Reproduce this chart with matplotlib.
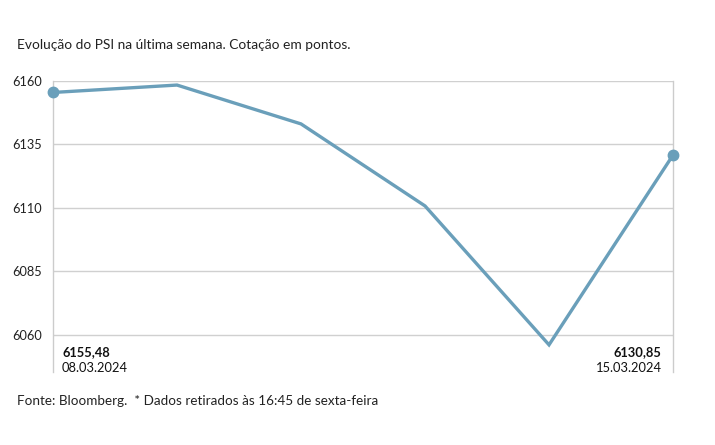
import matplotlib
matplotlib.use("Agg")
import matplotlib.pyplot as plt

dates = ["08.03.2024", "11.03.2024", "12.03.2024", "13.03.2024", "14.03.2024", "15.03.2024"]
values = [6155.48, 6158.4, 6143.1, 6110.8, 6056.1, 6130.85]
yticks = [6060, 6085, 6110, 6135, 6160]
first_label = "6155,48"
last_label = "6130,85"

plt.rcParams['font.family'] = ['Lato', 'DejaVu Sans']

fig = plt.figure(figsize=(7.15, 4.45), dpi=100)
ax = fig.add_axes([0.0741, 0.164, 0.8672, 0.654])

color = "#6a9fba"
x = list(range(len(values)))
ax.plot(x, values, color=color, lw=2.4, solid_joinstyle="miter", zorder=3, clip_on=False)
ax.plot([x[0], x[-1]], [values[0], values[-1]], 'o', color=color, ms=7.5, zorder=4, clip_on=False)

ax.set_xlim(0, len(values) - 1)
ax.set_ylim(6045.4, 6160)
ax.set_yticks(yticks)
ax.set_yticklabels([str(v) for v in yticks], fontsize=9.2, color="#222222")
ax.tick_params(axis='y', length=0, pad=8)
ax.set_xticks([])
for v in yticks:
    ax.axhline(v, color="#d0d0d0", lw=1, zorder=1)
for s in ["top", "bottom"]:
    ax.spines[s].set_visible(False)
for s in ["left", "right"]:
    ax.spines[s].set_color("#cccccc")
    ax.spines[s].set_linewidth(1)

ax.text(0.073, 6053.3, first_label, fontsize=9.3, fontweight="bold", color="#111111", ha="left", va="center")
ax.text(0.073, 6047.0, dates[0], fontsize=9.3, color="#111111", ha="left", va="center")
ax.text(len(values) - 1 - 0.09, 6053.3, last_label, fontsize=9.3, fontweight="bold", color="#111111", ha="right", va="center")
ax.text(len(values) - 1 - 0.09, 6047.0, dates[-1], fontsize=9.3, color="#111111", ha="right", va="center")

fig.text(17 / 715, 1 - 45 / 445, "Evolução do PSI na última semana. Cotação em pontos.", fontsize=9.9, color="#222222", ha="left", va="center")
fig.text(17 / 715, 1 - 401 / 445, "Fonte: Bloomberg.  * Dados retirados às 16:45 de sexta-feira", fontsize=9.7, color="#222222", ha="left", va="center")

fig.savefig("out.png", dpi=100)
